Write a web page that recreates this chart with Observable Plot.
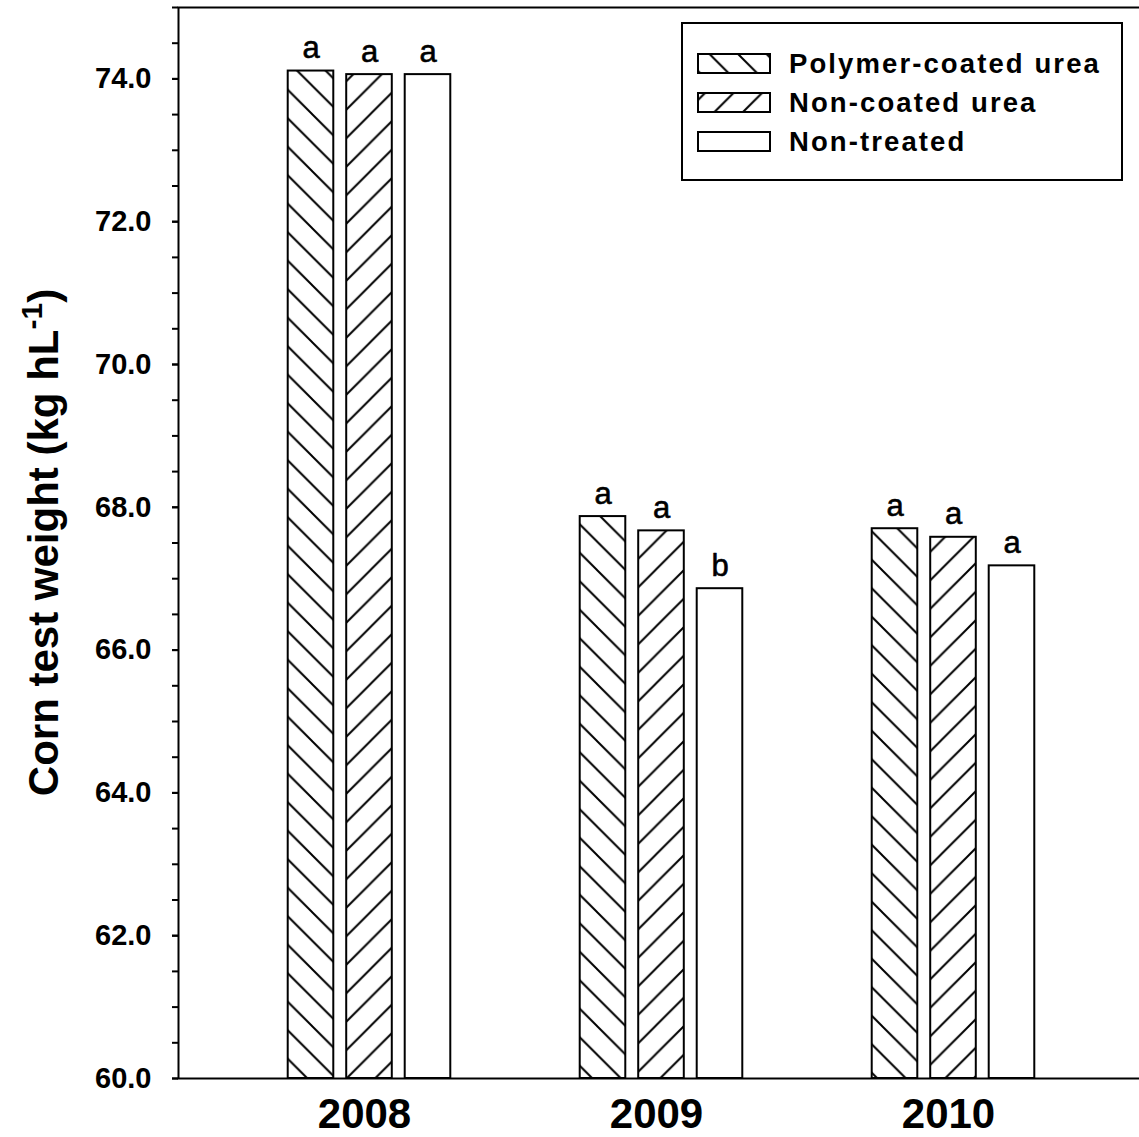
<!DOCTYPE html>
<html>
<head>
<meta charset="utf-8">
<script src="https://cdn.jsdelivr.net/npm/d3@7"></script>
<script src="https://cdn.jsdelivr.net/npm/@observablehq/plot@0.6"></script>
<style>
  body { margin: 0; background: #fff; }
  #chart { position: relative; width: 1139px; height: 1137px; overflow: hidden; }
</style>
</head>
<body>
<svg width="0" height="0" style="position:absolute">
  <defs>
    <pattern id="pat-pcu" patternUnits="userSpaceOnUse" width="28.5" height="28.5">
      <path d="M0,0 L28.5,28.5 M-3,25.5 L3,31.5 M25.5,-3 L31.5,3" stroke="black" stroke-width="2" fill="none"/>
    </pattern>
    <pattern id="pat-ncu" patternUnits="userSpaceOnUse" width="28.5" height="28.5">
      <path d="M0,28.5 L28.5,0 M-3,3 L3,-3 M25.5,31.5 L31.5,25.5" stroke="black" stroke-width="2" fill="none"/>
    </pattern>
  </defs>
</svg>
<div id="chart"></div>
<script>
// ---- data ----
const years = ["2008", "2009", "2010"];
const treatments = ["Polymer-coated urea", "Non-coated urea", "Non-treated"];
const polymerCoated = [74.11, 67.87, 67.70];
const nonCoated = [74.06, 67.67, 67.58];
const nonTreated = [74.06, 66.86, 67.18];
const lettersPolymer = ["a", "a", "a"];
const lettersNonCoated = ["a", "a", "a"];
const lettersNonTreated = ["a", "b", "a"];
const yMajorTicks = [60, 62, 64, 66, 68, 70, 72, 74];
const yMinorTicks = d3.range(60, 75.001, 0.5);
const yTitle = "Corn test weight (kg hL";
const yTitleSup = "-1";

// ---- build table ----
const series = [polymerCoated, nonCoated, nonTreated];
const letters = [lettersPolymer, lettersNonCoated, lettersNonTreated];
const fills = ["url(#pat-pcu)", "url(#pat-ncu)", "white"];
const data = treatments.flatMap((t, i) =>
  years.map((y, j) => ({ year: y, treatment: t, value: series[i][j], letter: letters[i][j] })));

const W = 1139, H = 1137;
const mL = 178, mR = -4, mT = 7, mB = 59;
const padOuter = 0.15;
const bandStep = (W - mL - mR) / (years.length + 2 * padOuter);
const barW = 46;
const barStep = 58.5;
const inset = (bandStep - barW) / 2;
const font = "'Liberation Sans', Arial, Helvetica, sans-serif";

const plot = Plot.plot({
  width: W, height: H,
  marginLeft: mL, marginRight: mR, marginTop: mT, marginBottom: mB,
  style: { fontFamily: font, color: "black", background: "white" },
  x: { domain: years, paddingInner: 0, paddingOuter: padOuter, label: null },
  y: { domain: [60, 75], label: null },
  marks: [
    ...treatments.map((t, i) => Plot.barY(data.filter(d => d.treatment === t), {
      x: "year", y1: 60, y2: "value",
      fill: fills[i], stroke: "black", strokeWidth: 2,
      dx: (i - 1) * barStep, insetLeft: inset, insetRight: inset
    })),
    ...treatments.map((t, i) => Plot.text(data.filter(d => d.treatment === t), {
      x: "year", y: "value", text: "letter",
      dx: (i - 1) * barStep, dy: -13, lineAnchor: "bottom",
      fontSize: 31, fill: "black", stroke: "black", strokeWidth: 0.6
    })),
    Plot.axisY({ ticks: yMinorTicks, tickSize: 6, tickFormat: () => "", strokeWidth: 2, label: null }),
    Plot.axisY({ ticks: yMajorTicks, tickSize: 6, tickPadding: 21, tickFormat: d3.format(".1f"),
      fontSize: 29, fontWeight: "bold", strokeWidth: 2, label: null }),
    Plot.axisX({ tickSize: 0, tickPadding: 20, fontSize: 42, fontWeight: "bold", dx: -5, label: null }),
    Plot.frame({ stroke: "black", strokeWidth: 2 })
  ]
});

document.getElementById("chart").appendChild(plot);

const svg = d3.select(plot);

// y-axis title with superscript
const yt = svg.append("text")
  .attr("transform", `translate(58,${(mT + H - mB) / 2}) rotate(-90)`)
  .attr("text-anchor", "middle")
  .attr("font-family", font)
  .attr("font-weight", "bold")
  .attr("font-size", 42)
  .attr("fill", "black");
yt.append("tspan").text(yTitle);
yt.append("tspan").attr("font-size", 30).attr("dy", -16).text(yTitleSup);
yt.append("tspan").attr("dy", 16).text(")");

// legend
const lg = svg.append("g");
lg.append("rect").attr("x", 682).attr("y", 23).attr("width", 440).attr("height", 157)
  .attr("fill", "white").attr("stroke", "black").attr("stroke-width", 2);
treatments.forEach((t, i) => {
  const y0 = 54 + i * 39;
  lg.append("rect").attr("x", 698).attr("y", y0).attr("width", 72).attr("height", 19)
    .attr("fill", fills[i]).attr("stroke", "black").attr("stroke-width", 2);
  lg.append("text").attr("x", 789).attr("y", y0 + 19).text(t)
    .attr("text-anchor", "start")
    .attr("font-family", font).attr("font-size", 27.5).attr("font-weight", "bold")
    .attr("letter-spacing", 2.1).attr("fill", "black");
});
</script>
</body>
</html>
